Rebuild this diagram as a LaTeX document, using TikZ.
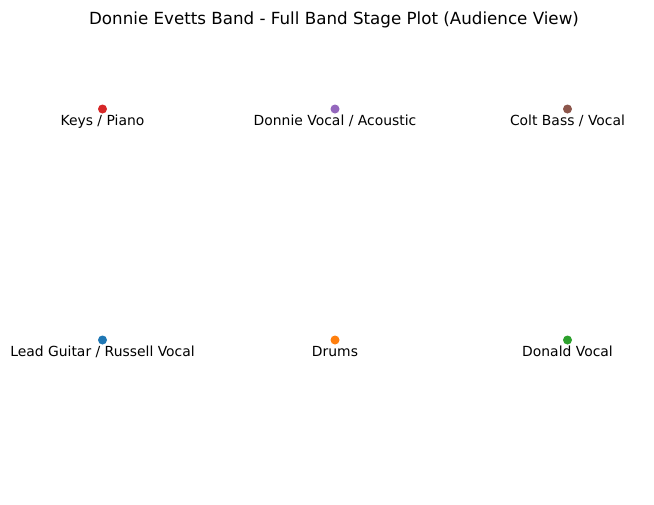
\documentclass[tikz,border=0pt]{standalone}
\usepackage{fontspec}
\setmainfont{DejaVu Sans}
\definecolor{tabblue}{HTML}{1F77B4}
\definecolor{taborange}{HTML}{FF7F0E}
\definecolor{tabgreen}{HTML}{2CA02C}
\definecolor{tabred}{HTML}{D62728}
\definecolor{tabpurple}{HTML}{9467BD}
\definecolor{tabbrown}{HTML}{8C564B}
\begin{document}
\begin{tikzpicture}[x=1pt,y=-1pt,
  dot/.style={circle,inner sep=0pt,minimum size=9pt},
  lab/.style={anchor=base,inner sep=0pt,font=\fontsize{13.9}{16}\selectfont},
  ttl/.style={anchor=base,inner sep=0pt,font=\fontsize{16.7}{19}\selectfont}]
\useasboundingbox[fill=white] (0,0) rectangle (654,504);
\node[ttl] (title) at (334,24) {Donnie Evetts Band - Full Band Stage Plot (Audience View)};
\node[dot,fill=tabred] (keys) at (102.5,109) {};
\node[dot,fill=tabpurple] (donnie) at (335,109) {};
\node[dot,fill=tabbrown] (colt) at (567.5,109) {};
\node[dot,fill=tabblue] (lead) at (102.5,340) {};
\node[dot,fill=taborange] (drums) at (335,340) {};
\node[dot,fill=tabgreen] (donald) at (567.5,340) {};
\node[lab] (keysl) at (102.5,125) {Keys / Piano};
\node[lab] (donniel) at (335,125) {Donnie Vocal / Acoustic};
\node[lab] (coltl) at (567.5,125) {Colt Bass / Vocal};
\node[lab] (leadl) at (102.5,356) {Lead Guitar / Russell Vocal};
\node[lab] (drumsl) at (335,356) {Drums};
\node[lab] (donaldl) at (567.5,356) {Donald Vocal};
\end{tikzpicture}
\end{document}
